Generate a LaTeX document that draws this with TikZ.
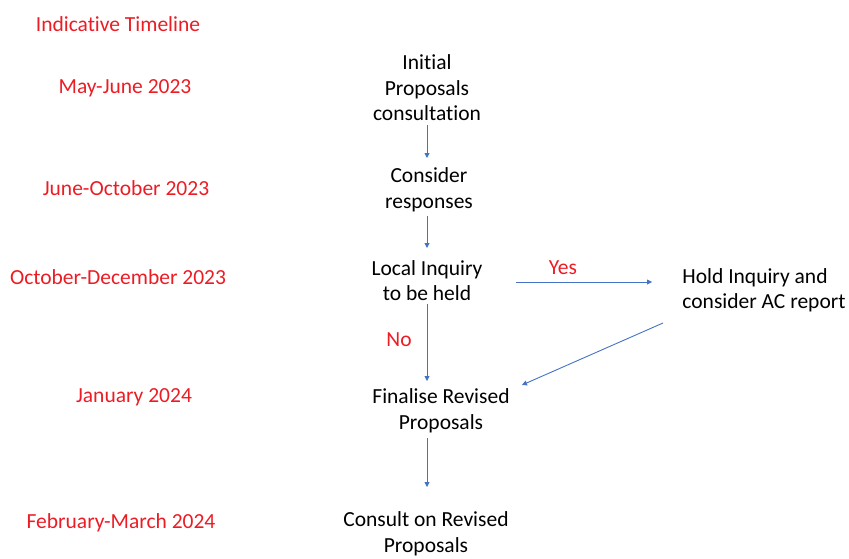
\documentclass[tikz,border=0pt]{standalone}
\usepackage{fontspec}
\setmainfont[Ligatures=NoCommon]{Carlito}
\usetikzlibrary{arrows.meta}
\definecolor{tlred}{RGB}{236,28,36}
\definecolor{flowblue}{RGB}{68,114,196}
\tikzset{
  datelbl/.style={text=tlred, font=\fontsize{21.5}{25.5}\selectfont, inner sep=0pt},
  stepbox/.style={align=center, font=\fontsize{21.5}{25.5}\selectfont, inner sep=0pt},
  flow/.style={draw=flowblue, line width=0.9pt, -{Triangle[length=5pt,width=5pt]}}
}
\begin{document}
\begin{tikzpicture}[x=1pt,y=-1pt]
\useasboundingbox (0,0) rectangle (849,558);
% 时间列
\node[datelbl] (title) at (118,24) {Indicative Timeline};
\node[datelbl] (d1) at (125,88) {May-June 2023};
\node[datelbl] (d2) at (126,188) {June-October 2023};
\node[datelbl] (d3) at (118,277) {October-December 2023};
\node[datelbl] (d4) at (134,397) {January 2024};
\node[datelbl] (d5) at (121,523) {February-March 2024};
% 步骤
\node[stepbox] (init) at (427,88) {Initial\\Proposals\\consultation};
\node[stepbox] (cons) at (429,190) {Consider\\responses};
\node[stepbox] (local) at (427,280.5) {Local Inquiry\\to be held};
\node[stepbox, align=left] (hold) at (764,290.5) {Hold Inquiry and\\consider AC report};
\node[stepbox] (final) at (441,411) {Finalise Revised\\Proposals};
\node[stepbox] (consult) at (426,534) {Consult on Revised\\Proposals};
% 分支标签
\node[datelbl] (yes) at (563,268) {Yes};
\node[datelbl] (no) at (399,340) {No};
% 箭头
\coordinate (yesend) at (652,282);
\coordinate (holdout) at (663,323);
\coordinate (finalin) at (522,385);
\draw[flow] (init.south -| 427,0) ++(0,4) -- (427,158);
\draw[flow] (cons.south -| 427,0) ++(0,4) -- (427,248);
\draw[flow] (local.east |- 0,282) ++(33,0) -- (yesend);
\draw[flow] (local.south -| 427,0) ++(0,3) -- (427,381);
\draw[flow] (holdout) -- (finalin);
\draw[flow] (final.south -| 427,0) ++(0,5) -- (427,487);
\end{tikzpicture}
\end{document}
